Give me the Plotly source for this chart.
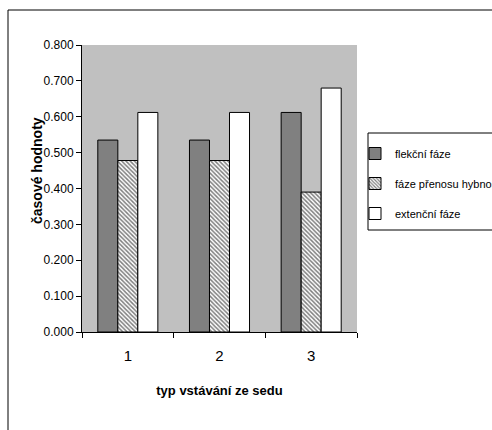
import plotly.graph_objects as go

categories = ["1", "2", "3"]
flekcni = [0.535, 0.535, 0.612]
prenos = [0.478, 0.478, 0.390]
extencni = [0.612, 0.612, 0.680]
series_names = ["flekční fáze", "fáze přenosu hybnosti", "extenční fáze"]
y_ticks = [0.0, 0.1, 0.2, 0.3, 0.4, 0.5, 0.6, 0.7, 0.8]
y_tick_labels = ["0.000", "0.100", "0.200", "0.300", "0.400", "0.500", "0.600", "0.700", "0.800"]

FONT = "Liberation Sans, Arial, sans-serif"

fig = go.Figure()
fig.add_trace(go.Bar(
    x=categories, y=flekcni, name=series_names[0], legendgroup="a",
    marker=dict(color="#808080", line=dict(color="black", width=1)),
))
fig.add_trace(go.Bar(
    x=categories, y=prenos, name=series_names[1], legendgroup="b",
    marker=dict(color="white", line=dict(color="black", width=1),
                pattern=dict(shape="\\", size=3, solidity=0.5,
                             fgcolor="black", bgcolor="white")),
))
fig.add_trace(go.Bar(
    x=categories, y=extencni, name=series_names[2], legendgroup="c",
    marker=dict(color="white", line=dict(color="black", width=1)),
))

W, H = 492, 430
L, R, T, B = 82, 135, 45, 98
pw, ph = W - L - R, H - T - B

def px_x(p):
    return (p - L) / pw

def px_y(p):
    return (H - B - p) / ph

fig.update_layout(
    width=W, height=H,
    margin=dict(l=L, r=R, t=T, b=B, autoexpand=False),
    paper_bgcolor="white",
    plot_bgcolor="#C0C0C0",
    barmode="group",
    bargap=0.345,
    bargroupgap=0,
    font=dict(family=FONT, color="black", size=12),
    showlegend=True,
    legend=dict(
        x=px_x(355), y=px_y(139), xanchor="left", yanchor="top",
        bgcolor="rgba(0,0,0,0)", borderwidth=0,
        font=dict(family=FONT, size=11, color="black"),
        tracegroupgap=11, traceorder="grouped",
    ),
    xaxis=dict(
        type="category",
        showline=True, linecolor="black", linewidth=1,
        ticks="outside", tickson="boundaries", ticklen=5, tickcolor="black",
        tickfont=dict(size=15, family=FONT),
        ticklabelstandoff=10,
        showgrid=False, zeroline=False,
        title=dict(text="<b>typ vstávání ze sedu</b>", standoff=22,
                   font=dict(size=13, family=FONT)),
    ),
    yaxis=dict(
        range=[0, 0.8],
        tickvals=y_ticks, ticktext=y_tick_labels,
        showline=True, linecolor="black", linewidth=1,
        ticks="outside", ticklen=5, tickcolor="black",
        tickfont=dict(size=12, family=FONT),
        showgrid=False, zeroline=False,
    ),
    annotations=[dict(
        text="<b>časové hodnoty</b>", textangle=-90,
        xref="paper", yref="paper", x=px_x(37), y=px_y(171),
        xanchor="center", yanchor="middle", showarrow=False,
        font=dict(size=14, family=FONT, color="black"),
    )],
    shapes=[
        dict(type="rect", xref="paper", yref="paper",
             x0=px_x(8), x1=px_x(520), y0=px_y(460), y1=px_y(10),
             line=dict(color="black", width=1), fillcolor="rgba(0,0,0,0)",
             layer="above"),
        dict(type="rect", xref="paper", yref="paper",
             x0=px_x(368), x1=px_x(520), y0=px_y(230), y1=px_y(133),
             line=dict(color="black", width=1), fillcolor="rgba(0,0,0,0)",
             layer="above"),
    ],
)

fig.write_html("out.html")
